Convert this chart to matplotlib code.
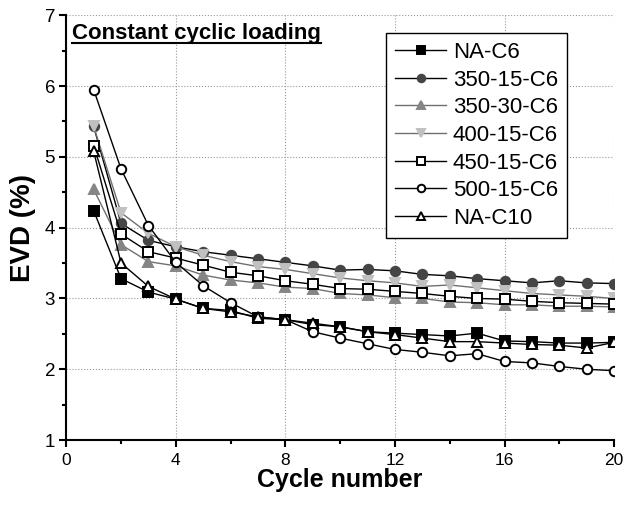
import matplotlib.pyplot as plt
from matplotlib.ticker import MultipleLocator
from matplotlib.lines import Line2D

plt.rcParams['font.family'] = ['Liberation Sans', 'DejaVu Sans']

cycles = list(range(1, 21))

na_c6 = [4.24, 3.28, 3.09, 2.99, 2.86, 2.83, 2.72, 2.70, 2.63, 2.60,
         2.53, 2.51, 2.49, 2.47, 2.51, 2.40, 2.39, 2.37, 2.37, 2.38]
s350_15 = [5.43, 4.06, 3.82, 3.73, 3.66, 3.61, 3.56, 3.51, 3.46, 3.40,
           3.41, 3.39, 3.34, 3.32, 3.28, 3.25, 3.22, 3.25, 3.22, 3.21]
s350_30 = [4.54, 3.76, 3.52, 3.46, 3.33, 3.26, 3.22, 3.16, 3.14, 3.07,
           3.05, 3.01, 3.00, 2.95, 2.94, 2.91, 2.91, 2.89, 2.89, 2.88]
s400_15 = [5.43, 4.21, 3.92, 3.73, 3.61, 3.52, 3.45, 3.41, 3.35, 3.29,
           3.25, 3.22, 3.17, 3.19, 3.15, 3.11, 3.07, 3.05, 3.03, 3.00]
s450_15 = [5.16, 3.91, 3.66, 3.57, 3.47, 3.37, 3.32, 3.25, 3.20, 3.14,
           3.13, 3.10, 3.07, 3.03, 3.00, 2.99, 2.96, 2.94, 2.93, 2.92]
s500_15 = [5.95, 4.83, 4.03, 3.51, 3.18, 2.94, 2.74, 2.70, 2.53, 2.44,
           2.36, 2.28, 2.24, 2.19, 2.22, 2.11, 2.09, 2.04, 2.00, 1.98]
na_c10 = [5.08, 3.50, 3.17, 2.99, 2.86, 2.81, 2.74, 2.70, 2.65, 2.60,
          2.53, 2.49, 2.44, 2.39, 2.39, 2.37, 2.35, 2.34, 2.30, 2.38]

labels = ['NA-C6', '350-15-C6', '350-30-C6', '400-15-C6', '450-15-C6', '500-15-C6', 'NA-C10']

fig = plt.figure(figsize=(6.37, 5.07), dpi=100)
ax = fig.add_axes([0.104, 0.132, 0.860, 0.838])

# estilo de cada serie: marcador, relleno, borde, linea
estilos = [
    ('s', 'black', 'black', 'black'),
    ('o', '#454545', '#454545', 'black'),
    ('^', '#858585', '#858585', '#707070'),
    ('v', '#c0c0c0', '#c0c0c0', '#707070'),
    ('s', 'white', 'black', 'black'),
    ('o', 'white', 'black', 'black'),
    ('^', 'white', 'black', 'black'),
]
series = [na_c6, s350_15, s350_30, s400_15, s450_15, s500_15, na_c10]

for vals, lab, (m, fc, ec, lc) in zip(series, labels, estilos):
    ax.plot(cycles, vals, color=lc, linewidth=1.0, marker=m, markersize=6.8,
            markerfacecolor=fc, markeredgecolor=ec, markeredgewidth=1.4, label=lab)

ax.set_xlim(0, 20)
ax.set_ylim(1, 7)
ax.xaxis.set_major_locator(MultipleLocator(4))
ax.xaxis.set_minor_locator(MultipleLocator(2))
ax.yaxis.set_major_locator(MultipleLocator(1))
ax.yaxis.set_minor_locator(MultipleLocator(0.5))
ax.tick_params(which='major', direction='out', length=5, width=1.5, pad=3)
ax.tick_params(which='minor', direction='out', length=3, width=1.5)
ax.tick_params(axis='x', which='major', labelsize=12.5, pad=4)
ax.tick_params(axis='y', which='major', labelsize=13.5, pad=3)

ax.grid(True, which='major', linestyle=':', linewidth=0.8, color='#999999')

ax.spines['top'].set_visible(False)
ax.spines['right'].set_visible(False)
ax.spines['left'].set_linewidth(1.5)
ax.spines['bottom'].set_linewidth(1.5)

ax.set_xlabel('Cycle number', fontsize=18, fontweight='bold', labelpad=0)
ax.set_ylabel('EVD (%)', fontsize=20, fontweight='bold', labelpad=6)

leg = ax.legend(loc='upper right', bbox_to_anchor=(0.914, 0.958), fontsize=16,
                frameon=True, fancybox=False, edgecolor='black', framealpha=1,
                handlelength=2.3, handletextpad=0.3, labelspacing=0.3,
                borderpad=0.4, borderaxespad=0, markerscale=0.8)
leg.get_frame().set_linewidth(1.0)

titulo = ax.text(0.011, 0.982, 'Constant cyclic loading', transform=ax.transAxes,
                 fontsize=16, fontweight='bold', ha='left', va='top')

# subrayado del titulo
fig.canvas.draw()
bb = titulo.get_window_extent().transformed(fig.transFigure.inverted())
fig.add_artist(Line2D([bb.x0, bb.x1], [bb.y0 + 0.002, bb.y0 + 0.002],
                      transform=fig.transFigure, color='black', linewidth=1.5))

plt.savefig('out.png', dpi=100)
